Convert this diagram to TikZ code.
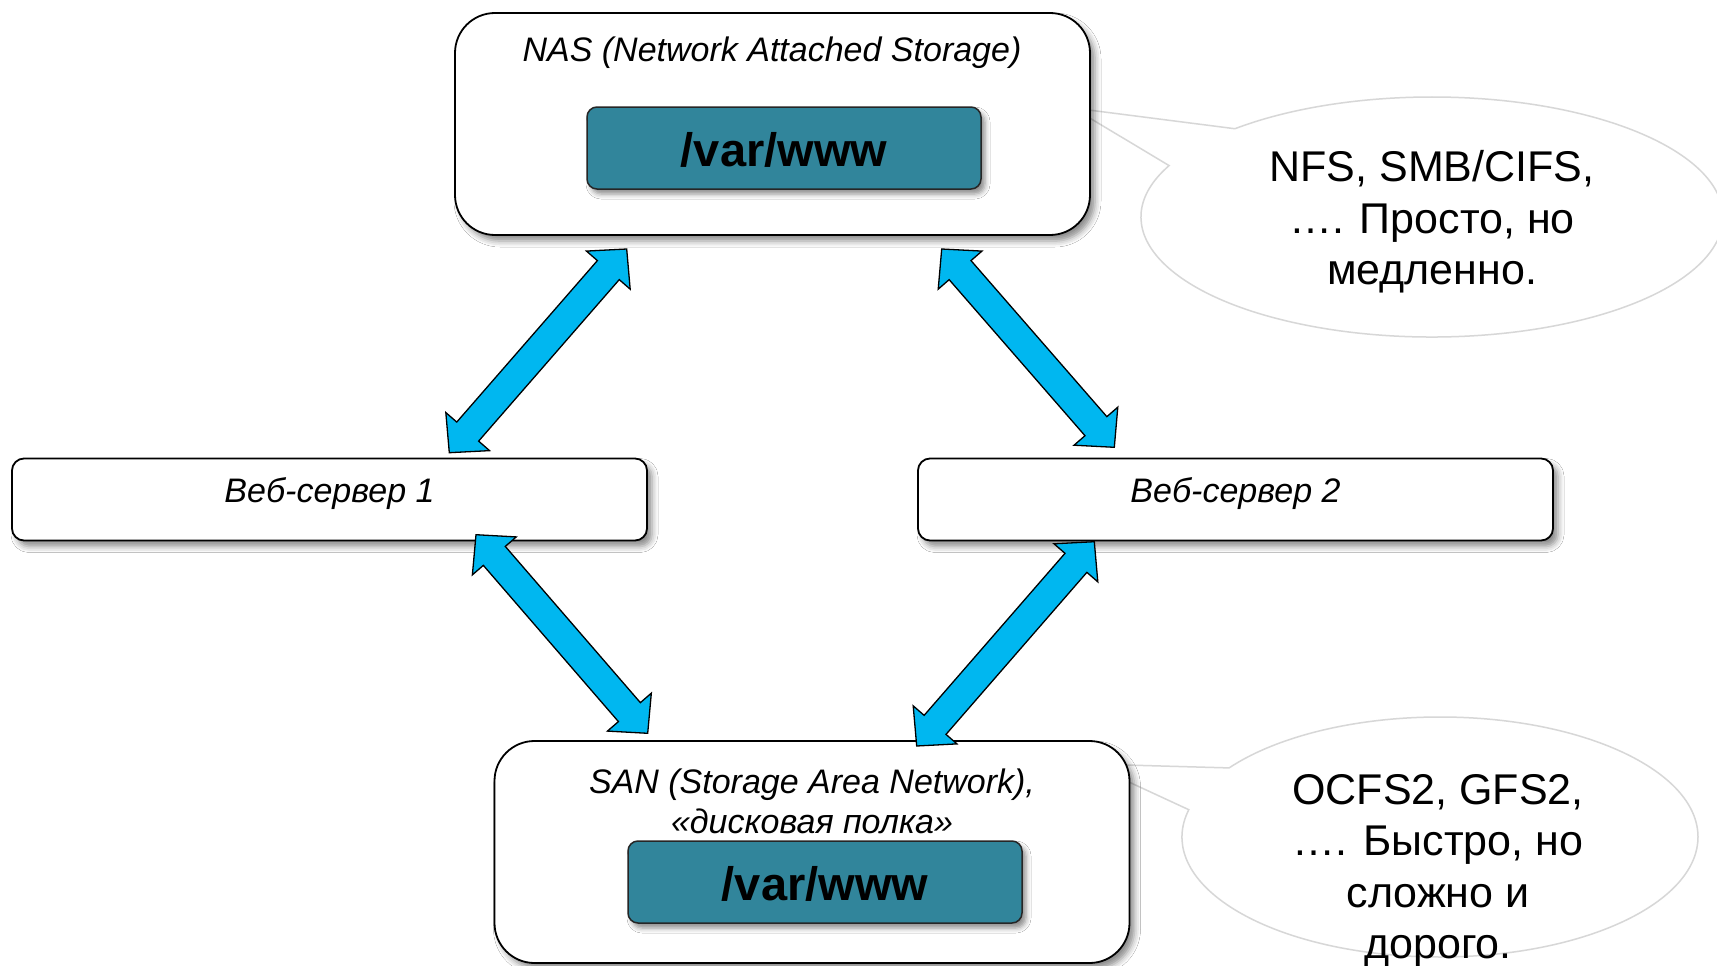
\documentclass[tikz,border=0pt]{standalone}
\usepackage{fontspec}
\setmainfont{Liberation Sans}
\usetikzlibrary{calc,shapes.callouts,shadows.blur}

\definecolor{arrowblue}{RGB}{0,183,240}
\definecolor{dirteal}{RGB}{49,133,155}
\definecolor{bubbleline}{RGB}{215,215,215}

\begin{document}
\begin{tikzpicture}[
			x=1pt, y=-1pt,
			box/.style = {draw=black, line width=1.8pt, fill=white, rounded corners=40pt,
				blur shadow={shadow xshift=5pt, shadow yshift=-6pt, shadow blur radius=6pt, shadow opacity=45}},
			serverbox/.style = {box, rounded corners=12pt, minimum width=635pt, minimum height=82pt,
				font=\fontsize{34}{40}\selectfont\itshape, text height=25pt, text depth=19pt},
			storebox/.style = {box, minimum width=635pt, minimum height=222pt},
			dirbox/.style = {draw=black!85, line width=1.5pt, fill=dirteal, rounded corners=10pt,
				minimum width=394pt, minimum height=82pt, text height=38pt, text depth=2pt,
				font=\fontsize{47}{50}\selectfont\bfseries,
				blur shadow={shadow xshift=4pt, shadow yshift=-5pt, shadow blur radius=5pt, shadow opacity=45}},
			headtext/.style = {font=\fontsize{34}{40}\selectfont\itshape, align=center},
			bubble/.style = {ellipse callout, draw=bubbleline, line width=1.5pt, fill=white,
				inner sep=0pt, callout pointer arc=22},
			notetext/.style = {font=\fontsize{43}{51.5}\selectfont, align=center},
			bigarrow/.style = {draw=black, line width=1.3pt, fill=arrowblue, line join=miter}
		]
		\useasboundingbox[fill=white] (0,0) rectangle (1717,966);

		% callouts behind the storage boxes
		\coordinate (nasTip) at (1073,108);
		\coordinate (sanTip) at (1090,764);
		\node[bubble, minimum width=582pt, minimum height=240pt, callout absolute pointer={(nasTip)}] (nasBubble) at (1432,217) {};
		\node[bubble, minimum width=516pt, minimum height=240pt, callout absolute pointer={(sanTip)}] (sanBubble) at (1440,837) {};
		\node[notetext] (nasNote) at (1432,222) {NFS, SMB/CIFS,\\…. Просто, но\\медленно.};
		\node[notetext] (sanNote) at (1438,871) {OCFS2, GFS2,\\…. Быстро, но\\сложно и\\дорого.};

		% storage and servers
		\node[storebox] (nas) at (772.5,124) {};
		\node[headtext, anchor=base] (nasTitle) at (772,62) {NAS (Network Attached Storage)};
		\node[dirbox] (nasDir) at (784,148) {/var/www};

		\node[serverbox] (web1) at (329.5,499.5) {Веб-сервер 1};
		\node[serverbox] (web2) at (1235.5,499.5) {Веб-сервер 2};

		\node[storebox] (san) at (812,852) {};
		\node[headtext] (sanTitle) at (812,801) {SAN (Storage Area Network),\\«дисковая полка»};
		\node[dirbox] (sanDir) at (825,882) {/var/www};

		% arrow ends
		\coordinate (nasL) at (626.7,249);
		\coordinate (web1T) at (449.3,452.7);
		\coordinate (nasR) at (941.7,249);
		\coordinate (web2T) at (1114.3,447.3);
		\coordinate (web1B) at (476,534.7);
		\coordinate (sanL) at (647.7,733.3);
		\coordinate (web2B) at (1094.3,541.7);
		\coordinate (sanR) at (916.7,746);

		\foreach \s/\t in {nasL/web1T, nasR/web2T, web1B/sanL, web2B/sanR} {
			\coordinate (h1) at ($(\s)!28pt!(\t)$);
			\coordinate (h2) at ($(\t)!28pt!(\s)$);
			\draw[bigarrow] (\s) -- ($(h1)!29pt!90:(\t)$) -- ($(h1)!14.5pt!90:(\t)$)
				-- ($(h2)!14.5pt!-90:(\s)$) -- ($(h2)!29pt!-90:(\s)$) -- (\t)
				-- ($(h2)!29pt!90:(\s)$) -- ($(h2)!14.5pt!90:(\s)$)
				-- ($(h1)!14.5pt!-90:(\t)$) -- ($(h1)!29pt!-90:(\t)$) -- cycle;
		}
	\end{tikzpicture}
\end{document}
